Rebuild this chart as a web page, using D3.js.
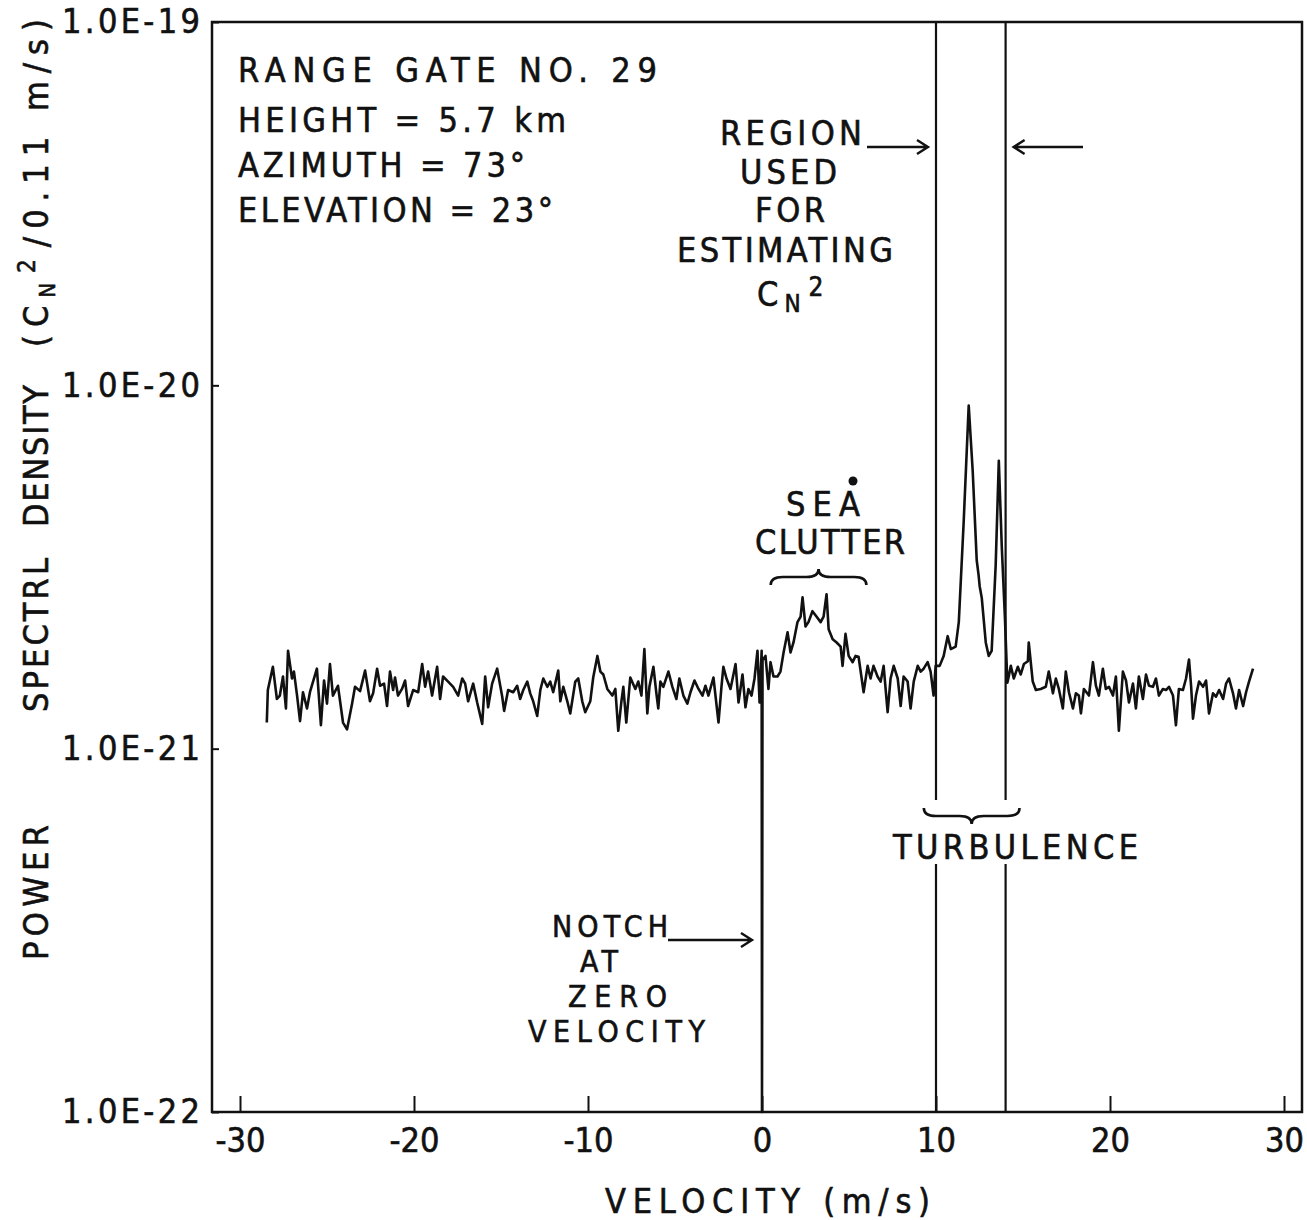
<!DOCTYPE html>
<html>
<head>
<meta charset="utf-8">
<script src="https://cdn.jsdelivr.net/npm/d3@7/dist/d3.min.js"></script>
<style>
  body { margin: 0; background: #fff; }
  text { font-family: "Liberation Sans Narrow", "DejaVu Sans Condensed", "Liberation Sans", sans-serif;
         fill: #111; stroke: #111; stroke-width: 0.6; }
</style>
</head>
<body>
<div id="chart"></div>
<script>
// ---- data ----
const xTicks = [-30, -20, -10, 0, 10, 20, 30];
const xTickLabels = ["-30", "-20", "-10", "0", "10", "20", "30"];
const yTicks = [1e-22, 1e-21, 1e-20, 1e-19];
const yTickLabels = ["1.0E-22", "1.0E-21", "1.0E-20", "1.0E-19"];
const regionBounds = [10, 14];       // velocities of the two vertical lines
const clutterSpan = [0.5, 6.0];      // brace over sea clutter
const turbulenceSpan = [9.3, 14.8];  // brace over turbulence
const infoLines = ["RANGE  GATE  NO. 29", "HEIGHT  = 5.7 km", "AZIMUTH = 73°", "ELEVATION = 23°"];
const notchLines = ["NOTCH", "AT", "ZERO", "VELOCITY"];
const UNIT = 1e-21;
// [velocity (m/s), power spectral density in units of 1E-21]
const spectrum = [
  [-28.46,1.18],[-28.40,1.45],[-28.11,1.68],[-27.88,1.37],[-27.71,1.40],[-27.53,1.58],[-27.36,1.29],[-27.24,1.86],
  [-27.01,1.56],[-26.90,1.63],[-26.72,1.40],[-26.55,1.19],[-26.38,1.43],[-26.15,1.29],[-25.98,1.43],[-25.58,1.66],
  [-25.35,1.16],[-25.17,1.54],[-25.00,1.33],[-24.83,1.71],[-24.66,1.40],[-24.37,1.49],[-24.08,1.18],[-23.85,1.13],
  [-23.56,1.33],[-23.39,1.48],[-23.10,1.44],[-22.81,1.64],[-22.53,1.35],[-22.35,1.42],[-22.12,1.66],[-21.95,1.49],
  [-21.72,1.51],[-21.55,1.31],[-21.38,1.63],[-21.20,1.45],[-21.09,1.57],[-20.92,1.40],[-20.69,1.46],[-20.51,1.54],
  [-20.34,1.31],[-20.05,1.45],[-19.76,1.43],[-19.53,1.71],[-19.36,1.48],[-19.19,1.63],[-18.96,1.40],[-18.67,1.68],
  [-18.50,1.37],[-18.33,1.58],[-18.04,1.53],[-17.75,1.48],[-17.46,1.40],[-17.23,1.56],[-17.06,1.51],[-16.89,1.35],
  [-16.60,1.51],[-16.37,1.34],[-16.08,1.17],[-15.91,1.58],[-15.74,1.30],[-15.51,1.51],[-15.22,1.66],[-14.93,1.39],
  [-14.82,1.27],[-14.59,1.45],[-14.30,1.43],[-14.07,1.49],[-13.90,1.37],[-13.72,1.45],[-13.49,1.53],[-13.32,1.42],
  [-13.15,1.35],[-12.92,1.23],[-12.74,1.45],[-12.57,1.56],[-12.34,1.48],[-12.17,1.53],[-12.00,1.43],[-11.71,1.64],
  [-11.59,1.35],[-11.42,1.48],[-11.19,1.35],[-11.02,1.25],[-10.73,1.53],[-10.56,1.56],[-10.33,1.35],[-10.16,1.26],
  [-9.87,1.35],[-9.70,1.57],[-9.46,1.80],[-9.29,1.63],[-9.12,1.60],[-8.89,1.46],[-8.60,1.40],[-8.43,1.46],
  [-8.26,1.12],[-8.08,1.35],[-7.97,1.48],[-7.80,1.18],[-7.57,1.57],[-7.28,1.46],[-7.11,1.53],[-6.93,1.40],
  [-6.76,1.88],[-6.59,1.25],[-6.47,1.48],[-6.24,1.68],[-6.07,1.42],[-5.96,1.29],[-5.84,1.53],[-5.67,1.48],
  [-5.38,1.63],[-5.15,1.48],[-4.92,1.37],[-4.75,1.56],[-4.52,1.40],[-4.29,1.33],[-4.11,1.43],[-3.88,1.54],
  [-3.65,1.46],[-3.42,1.40],[-3.25,1.49],[-3.08,1.40],[-2.79,1.57],[-2.50,1.18],[-2.33,1.48],[-2.22,1.68],
  [-2.04,1.56],[-1.81,1.46],[-1.52,1.71],[-1.35,1.34],[-1.12,1.60],[-0.95,1.30],[-0.78,1.46],[-0.60,1.40],
  [-0.43,1.56],[-0.26,1.86],[-0.14,1.34],[-0.02,1.86],
  [0.00,0.10],  // notch at zero velocity
  [0.03,1.75],[0.20,1.80],[0.37,1.46],[0.49,1.73],[0.66,1.58],[0.89,1.58],[1.06,1.63],[1.24,1.84],
  [1.47,2.09],[1.64,1.84],[1.81,1.96],[2.04,2.23],[2.22,2.31],[2.33,2.61],[2.50,2.17],[2.67,2.23],
  [2.90,2.39],[3.13,2.31],[3.37,2.23],[3.54,2.31],[3.71,2.66],[3.83,2.13],[4.06,2.00],[4.29,1.96],
  [4.52,1.91],[4.63,1.69],[4.80,2.07],[4.98,1.80],[5.21,1.73],[5.38,1.80],[5.55,1.79],[5.84,1.43],
  [6.07,1.69],[6.24,1.56],[6.41,1.69],[6.64,1.58],[6.82,1.53],[6.99,1.69],[7.22,1.26],[7.39,1.56],
  [7.57,1.69],[7.80,1.56],[7.97,1.31],[8.14,1.58],[8.37,1.53],[8.54,1.29],[8.72,1.53],[8.95,1.69],
  [9.12,1.63],[9.29,1.66],[9.52,1.73],[9.69,1.63],[9.86,1.40],[9.98,1.69],
  [10.21,1.69],[10.44,1.80],[10.67,2.04],[10.85,1.88],[11.13,1.91],[11.31,2.23],[11.59,4.20],[11.88,8.80],
  [12.11,5.80],[12.34,3.30],[12.45,3.00],[12.51,2.80],[12.63,2.60],[12.86,1.96],[13.03,1.80],[13.20,1.86],
  [13.43,3.20],[13.61,6.20],[13.78,3.60],[13.96,2.30],[14.10,1.52],
  [14.18,1.58],[14.30,1.69],[14.47,1.56],[14.70,1.68],[14.87,1.60],[15.05,1.71],[15.28,1.74],[15.33,1.96],
  [15.56,1.53],[15.74,1.45],[16.02,1.46],[16.31,1.48],[16.48,1.63],[16.72,1.42],[16.89,1.56],[17.06,1.46],
  [17.29,1.29],[17.46,1.63],[17.64,1.43],[17.87,1.29],[18.04,1.42],[18.21,1.40],[18.33,1.25],[18.50,1.46],
  [18.79,1.40],[19.02,1.73],[19.19,1.49],[19.36,1.40],[19.59,1.66],[19.76,1.46],[19.94,1.48],[20.17,1.40],
  [20.34,1.58],[20.51,1.12],[20.74,1.63],[20.92,1.54],[21.09,1.34],[21.32,1.51],[21.49,1.29],[21.66,1.58],
  [21.89,1.37],[22.07,1.60],[22.24,1.49],[22.47,1.48],[22.64,1.56],[22.81,1.40],[23.04,1.46],[23.22,1.45],
  [23.39,1.48],[23.62,1.40],[23.79,1.16],[23.96,1.46],[24.19,1.45],[24.37,1.56],[24.54,1.76],[24.66,1.49],
  [24.77,1.21],[24.94,1.40],[25.12,1.53],[25.35,1.48],[25.52,1.54],[25.69,1.25],[25.92,1.42],[26.09,1.39],
  [26.27,1.45],[26.50,1.37],[26.67,1.51],[26.84,1.56],[27.07,1.42],[27.24,1.29],[27.42,1.45],[27.65,1.31],
  [27.82,1.43],[27.99,1.53],[28.22,1.66]
];

// ---- layout ----
const W = 1307, H = 1220;
const frame = { left: 212, right: 1302, top: 22, bottom: 1112 };
const FS = 34;

const svg = d3.select("#chart").append("svg")
  .attr("width", W).attr("height", H);

const x = d3.scaleLinear().domain([-30, 30]).range([240, 1284]);
const y = d3.scaleLog().domain([1e-22, 1e-19]).range([frame.bottom, frame.top]);

//frame
svg.append("rect")
  .attr("x", frame.left).attr("y", frame.top)
  .attr("width", frame.right - frame.left).attr("height", frame.bottom - frame.top)
  .attr("fill", "none").attr("stroke", "#111").attr("stroke-width", 2.5);

//x axis, ticks pointing inward
let gx = svg.append("g")
  .attr("transform", "translate(0," + frame.bottom + ")")
  .call(d3.axisBottom(x).tickValues(xTicks).tickSize(-16).tickPadding(16)
    .tickFormat(function (d, i) { return xTickLabels[i]; }));
gx.select(".domain").remove();
gx.attr("font-size", FS).attr("font-family", null);
gx.selectAll("line").attr("stroke", "#111").attr("stroke-width", 2);

//y axis
let gy = svg.append("g")
  .attr("transform", "translate(" + frame.left + ",0)")
  .call(d3.axisLeft(y).tickValues(yTicks).tickSize(-7).tickPadding(12)
    .tickFormat(function (d, i) { return yTickLabels[i]; }));
gy.select(".domain").remove();
gy.attr("font-size", FS).attr("font-family", null);
gy.selectAll("line").attr("stroke", "#111").attr("stroke-width", 2);
gy.selectAll("text").attr("textLength", 138).attr("lengthAdjust", "spacing");

//region lines (full height)
svg.selectAll(".region")
  .data(regionBounds)
  .enter().append("line")
  .attr("class", "region")
  .attr("x1", function (d) { return x(d); }).attr("x2", function (d) { return x(d); })
  .attr("y1", frame.top).attr("y2", frame.bottom)
  .attr("stroke", "#111").attr("stroke-width", 2.2);

//spectrum
let line = d3.line()
  .x(function (d) { return x(d[0]); })
  .y(function (d) { return y(Math.max(d[1] * UNIT, 1e-22)); });

svg.append("path")
  .datum(spectrum)
  .attr("d", line)
  .attr("fill", "none")
  .attr("stroke", "#111")
  .attr("stroke-width", 2.6)
  .attr("stroke-linejoin", "round");

// ---- annotations ----
function label(tx, ty, str, len, fs) {
  let t = svg.append("text")
    .attr("x", tx).attr("y", ty)
    .attr("font-size", fs || FS)
    .text(str);
  if (len) t.attr("textLength", len).attr("lengthAdjust", "spacing");
  return t;
}

function arrow(x1, x2, ay) {
  let dir = x2 > x1 ? 1 : -1;
  svg.append("path")
    .attr("d", "M" + x1 + "," + ay + "L" + x2 + "," + ay +
      "M" + (x2 - 11 * dir) + "," + (ay - 7) + "L" + x2 + "," + ay + "L" + (x2 - 11 * dir) + "," + (ay + 7))
    .attr("fill", "none").attr("stroke", "#111").attr("stroke-width", 2.4);
}

// curly brace; s = 1 -> tip up (ends down), s = -1 -> tip down
function brace(v1, v2, by, h, s) {
  let x1 = x(v1), x2 = x(v2), xm = (x1 + x2) / 2, q = 12;
  let p = "M" + x1 + "," + (by + s * h) +
    "Q" + x1 + "," + by + " " + (x1 + q) + "," + by +
    "L" + (xm - q) + "," + by +
    "Q" + xm + "," + by + " " + xm + "," + (by - s * h) +
    "Q" + xm + "," + by + " " + (xm + q) + "," + by +
    "L" + (x2 - q) + "," + by +
    "Q" + x2 + "," + by + " " + x2 + "," + (by + s * h);
  svg.append("path").attr("d", p)
    .attr("fill", "none").attr("stroke", "#111").attr("stroke-width", 2.6);
}

//info block
let infoLen = [419, 328, 287, 315];
infoLines.forEach(function (s, i) {
  label(238, [82, 132, 177, 222][i], s, infoLen[i]);
});

//region used
label(720, 145, "REGION", 142);
arrow(867, x(regionBounds[0]) - 8, 147);
arrow(1083, x(regionBounds[1]) + 8, 147);
label(740, 184, "USED", 97);
label(755, 222, "FOR", 70);
label(677, 262, "ESTIMATING", 216);
let cn = label(757, 306, "C");
cn.append("tspan").attr("dx", 6).attr("dy", 6).attr("font-size", 24).text("N");
cn.append("tspan").attr("dx", 8).attr("dy", -16).attr("font-size", 26).text("2");

//sea clutter
label(786, 516, "SEA", 74);
svg.append("circle").attr("cx", 853).attr("cy", 481).attr("r", 4.5).attr("fill", "#111");
label(755, 554, "CLUTTER", 150);
brace(clutterSpan[0], clutterSpan[1], 577, 8, 1);

//turbulence: white gap in region lines
svg.append("rect").attr("x", x(regionBounds[0]) - 6).attr("y", 800)
  .attr("width", x(regionBounds[1]) - x(regionBounds[0]) + 12).attr("height", 64)
  .attr("fill", "#fff");
brace(turbulenceSpan[0], turbulenceSpan[1], 816, 8, -1);
label(893, 859, "TURBULENCE", 245);

//notch
let notchX = [552, 580, 568, 528], notchLen = [116, 38, 99, 177];
notchLines.forEach(function (s, i) {
  label(notchX[i], 937 + i * 35, s, notchLen[i], 30);
});
arrow(668, x(0) - 10, 940);

//x label
label(605, 1213, "VELOCITY   (m/s)", 325);

//y label (rotated)
let yl = svg.append("g").attr("font-size", 34);
function ylabel(pos, str, len) {
  let t = yl.append("text")
    .attr("transform", "translate(48," + pos + ") rotate(-90)")
    .attr("textLength", len).attr("lengthAdjust", "spacing")
    .text(str);
  return t;
}
ylabel(960, "POWER", 135);
ylabel(712, "SPECTRL", 154);
ylabel(527, "DENSITY", 142);
let unit = yl.append("text")
  .attr("transform", "translate(48,347) rotate(-90)")
  .attr("textLength", 328).attr("lengthAdjust", "spacing");
unit.append("tspan").text("(C");
unit.append("tspan").attr("dy", 7).attr("font-size", 22).text("N");
unit.append("tspan").attr("dy", -20).attr("dx", 2).attr("font-size", 24).text("2");
unit.append("tspan").attr("dy", 13).attr("dx", 4).text("/0.11 m/s)");
</script>
</body>
</html>
